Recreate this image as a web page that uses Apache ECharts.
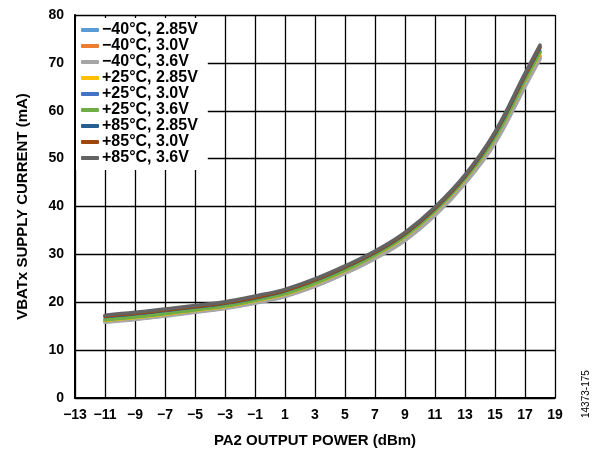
<!DOCTYPE html>
<html>
<head>
<meta charset="utf-8">
<script src="https://cdn.jsdelivr.net/npm/echarts@6/dist/echarts.min.js"></script>
<style>
html,body{margin:0;padding:0;background:#fff;}
#c{width:602px;height:455px;}
</style>
</head>
<body>
<div id="c"></div>
<script>
var xPower = [-11, -9, -7, -5, -3, -1, 1, 3, 5, 7, 9, 11, 13, 15, 17, 18];
var seriesNames = ['−40°C, 2.85V','−40°C, 3.0V','−40°C, 3.6V','+25°C, 2.85V','+25°C, 3.0V','+25°C, 3.6V','+85°C, 2.85V','+85°C, 3.0V','+85°C, 3.6V'];
var seriesColors = ['#5B9BD5','#ED7D31','#A5A5A5','#FFC000','#4472C4','#70AD47','#255E91','#9E480E','#636363'];
var m40_285 = [15.9, 16.5, 17.2, 18.0, 18.8, 19.9, 21.3, 23.4, 26.1, 29.2, 33.0, 38.3, 45.0, 53.4, 65.3, 71.1];
var m40_30  = [16.0, 16.6, 17.3, 18.1, 18.9, 20.0, 21.4, 23.5, 26.3, 29.4, 33.2, 38.5, 45.2, 53.7, 65.6, 71.4];
var m40_36  = [15.8, 16.4, 17.1, 17.9, 18.7, 19.8, 21.2, 23.3, 26.0, 29.1, 32.9, 38.1, 44.8, 53.2, 65.0, 70.8];
var p25_285 = [16.2, 16.8, 17.5, 18.3, 19.1, 20.3, 21.7, 23.9, 26.6, 29.8, 33.7, 39.0, 45.7, 54.3, 66.3, 72.0];
var p25_30  = [16.4, 17.0, 17.7, 18.5, 19.3, 20.5, 21.9, 24.1, 26.8, 30.0, 33.9, 39.2, 45.9, 54.5, 66.6, 72.4];
var p25_36  = [16.3, 16.9, 17.6, 18.4, 19.2, 20.4, 21.8, 24.0, 26.7, 29.9, 33.8, 39.1, 45.8, 54.4, 66.4, 72.2];
var p85_285 = [17.0, 17.6, 18.3, 19.0, 19.8, 20.9, 22.4, 24.6, 27.3, 30.4, 34.3, 39.6, 46.3, 55.2, 67.3, 73.2];
var p85_30  = [17.1, 17.7, 18.4, 19.1, 19.9, 21.0, 22.5, 24.7, 27.4, 30.5, 34.4, 39.7, 46.4, 55.4, 67.5, 73.4];
var p85_36  = [17.3, 17.9, 18.6, 19.3, 20.1, 21.3, 22.7, 24.9, 27.6, 30.7, 34.6, 39.9, 46.6, 55.6, 67.8, 73.7];
var allValues = [m40_285, m40_30, m40_36, p25_285, p25_30, p25_36, p85_285, p85_30, p85_36];
var xTickLabels = ['−13','−11','−9','−7','−5','−3','−1','1','3','5','7','9','11','13','15','17','19'];
var yTickLabels = ['0','10','20','30','40','50','60','70','80'];

var FONT = '"Liberation Sans", Arial, sans-serif';
var series = seriesNames.map(function (n, i) {
  return {
    name: n,
    type: 'line',
    smooth: 0.4,
    showSymbol: false,
    symbol: 'none',
    color: seriesColors[i],
    lineStyle: { width: 3.5, color: seriesColors[i], cap: 'round' },
    data: xPower.map(function (x, k) { return [x, allValues[i][k]]; }),
    z: 2 + i
  };
});

var chart = echarts.init(document.getElementById('c'), null, { renderer: 'canvas' });
chart.setOption({
  animation: false,
  backgroundColor: '#fff',
  textStyle: { fontFamily: FONT },
  grid: { left: 75, right: 47, top: 15, bottom: 57, containLabel: false },
  legend: {
    orient: 'vertical',
    left: 76, top: 18,
    padding: [4, 10, 4, 5],
    backgroundColor: '#fff',
    itemGap: 0,
    itemWidth: 18,
    itemHeight: 4,
    icon: 'roundRect',
    z: 20,
    textStyle: { fontFamily: FONT, fontWeight: 'bold', fontSize: 16, color: '#000', lineHeight: 15.6, padding: [0, 0, 0, -2] },
    data: seriesNames
  },
  xAxis: {
    type: 'value',
    min: -13, max: 19, interval: 2,
    name: 'PA2 OUTPUT POWER (dBm)',
    nameLocation: 'middle',
    nameGap: 35,
    nameTextStyle: { fontFamily: FONT, fontWeight: 'bold', fontSize: 15, color: '#000' },
    axisLine: { show: true, onZero: false, lineStyle: { color: '#000', width: 2 } },
    axisTick: { show: false },
    splitLine: { show: true, lineStyle: { color: '#000', width: 1.3 } },
    axisLabel: {
      margin: 10, fontFamily: FONT, fontWeight: 'bold', fontSize: 14, color: '#000',
      formatter: function (v) { return xTickLabels[Math.round((v + 13) / 2)]; }
    }
  },
  yAxis: {
    type: 'value',
    min: 0, max: 80, interval: 10,
    name: 'VBATx SUPPLY CURRENT (mA)',
    nameLocation: 'middle',
    nameGap: 45,
    nameTextStyle: { fontFamily: FONT, fontWeight: 'bold', fontSize: 15, color: '#000' },
    axisLine: { show: true, onZero: false, lineStyle: { color: '#000', width: 2 } },
    axisTick: { show: false },
    splitLine: { show: true, lineStyle: { color: '#000', width: 1.3 } },
    axisLabel: {
      margin: 11, fontFamily: FONT, fontWeight: 'bold', fontSize: 14, color: '#000',
      formatter: function (v) { return yTickLabels[Math.round(v / 10)]; }
    }
  },
  graphic: [{
    type: 'text',
    x: 581, y: 418,
    rotation: Math.PI / 2,
    style: { text: '14373-175', fontFamily: FONT, fontSize: 10, fill: '#000', textAlign: 'left', textVerticalAlign: 'top' }
  }],
  series: series
});
</script>
</body>
</html>
